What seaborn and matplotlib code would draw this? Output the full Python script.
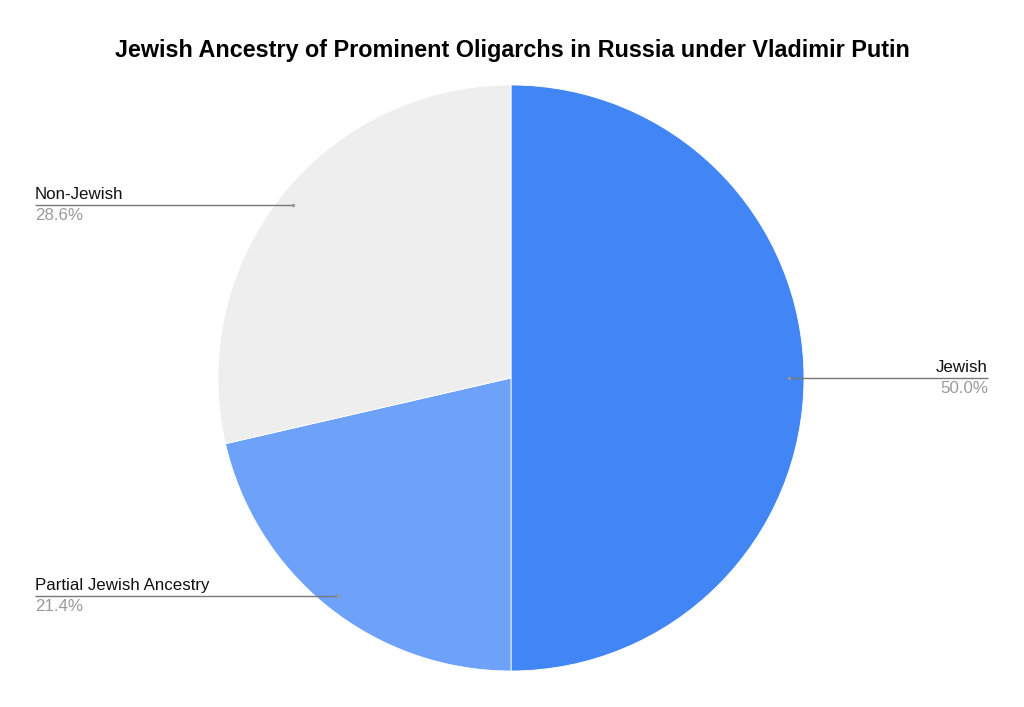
import numpy as np
import matplotlib.pyplot as plt
import seaborn as sns

categories = ["Jewish", "Partial Jewish Ancestry", "Non-Jewish"]
shares = [50.0, 21.4, 28.6]
slice_colors = ["#4285f4", "#6ea2f8", "#eeeeee"]

sns.set_theme(style="white")
plt.rcParams['font.family'] = ['Liberation Sans', 'DejaVu Sans']

W, H = 1024, 707
fig = plt.figure(figsize=(W / 100, H / 100), dpi=100)
ax = fig.add_axes([0, 0, 1, 1])

cx, cy, r = 511, H - 378, 293
wedges, _ = ax.pie(shares, colors=slice_colors, startangle=90, counterclock=False,
                   center=(cx, cy), radius=r,
                   wedgeprops={'linewidth': 0.6, 'edgecolor': 'white'})
ax.set_xlim(0, W)
ax.set_ylim(0, H)
ax.set_aspect('equal')
ax.axis('off')

# label anchors (left/right end of the leader line)
label_x = {"Jewish": 988, "Partial Jewish Ancestry": 35, "Non-Jewish": 35}
for w, name, val in zip(wedges, categories, shares):
    mid = np.deg2rad((w.theta1 + w.theta2) / 2)
    px = cx + 0.95 * r * np.cos(mid)
    py = cy + 0.95 * r * np.sin(mid)
    lx = label_x[name]
    ax.plot([px, lx], [py, py], color='#777777', lw=1, solid_capstyle='butt')
    ax.plot(px, py, 'o', color='#999999', ms=2.5, mec='none')
    ha = 'right' if lx > cx else 'left'
    ax.text(lx, py + 3, name, ha=ha, va='bottom', fontsize=12.2, color='#111111')
    ax.text(lx, py - 3, f"{val:.1f}%", ha=ha, va='top', fontsize=12.2, color='#9a9a9a')

ax.text(W / 2, H - 50, "Jewish Ancestry of Prominent Oligarchs in Russia under Vladimir Putin",
        ha='center', va='center', fontsize=16.8, fontweight='bold', color='#000000')

fig.savefig("out.png", dpi=100, facecolor='white')
